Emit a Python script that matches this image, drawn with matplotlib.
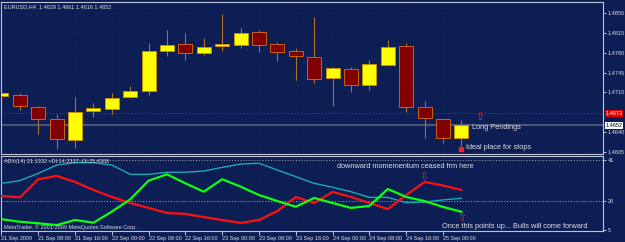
import matplotlib
matplotlib.use("Agg")
import matplotlib.pyplot as plt

plt.rcParams['font.family'] = ['Liberation Sans', 'DejaVu Sans']

# EURUSD H4, one candle per bar from 21 Sep 2009 00:00 to 25 Sep 2009 04:00
opens  = [1.4704, 1.4706, 1.4684, 1.4663, 1.4626, 1.4677, 1.4681, 1.4702, 1.4712, 1.4783,
          1.4795, 1.4780, 1.4792, 1.4794, 1.4817, 1.4795, 1.4783, 1.4772, 1.4735, 1.4751,
          1.4723, 1.4758, 1.4792, 1.4684, 1.4663, 1.4629]
highs  = [1.4711, 1.4709, 1.4686, 1.4672, 1.4702, 1.4691, 1.4709, 1.4721, 1.4797, 1.4820,
          1.4815, 1.4806, 1.4848, 1.4824, 1.4820, 1.4799, 1.4788, 1.4843, 1.4754, 1.4755,
          1.4767, 1.4802, 1.4797, 1.4695, 1.4664, 1.4661]
lows   = [1.4684, 1.4679, 1.4637, 1.4610, 1.4612, 1.4667, 1.4672, 1.4700, 1.4705, 1.4774,
          1.4767, 1.4776, 1.4783, 1.4788, 1.4781, 1.4765, 1.4732, 1.4727, 1.4686, 1.4711,
          1.4714, 1.4757, 1.4675, 1.4630, 1.4621, 1.4616]
closes = [1.4709, 1.4686, 1.4663, 1.4628, 1.4675, 1.4683, 1.4700, 1.4712, 1.4783, 1.4794,
          1.4780, 1.4790, 1.4795, 1.4815, 1.4794, 1.4781, 1.4774, 1.4734, 1.4753, 1.4723,
          1.4760, 1.4790, 1.4684, 1.4665, 1.4630, 1.4652]

# ADX(14) panel
adx      = [28.8, 30.2, 33.9, 38.2, 39.4, 39.4, 38.2, 33.4, 33.4, 34.5, 34.5, 35.1, 37.0,
            38.7, 39.1, 35.6, 32.2, 28.8, 26.8, 24.5, 21.6, 21.6, 18.9, 19.2, 20.3, 21.13]
plus_di  = [10.4, 9.1, 8.3, 7.4, 10.0, 8.6, 14.3, 20.6, 30.2, 33.4, 28.8, 24.5, 30.9,
            27.1, 22.8, 19.7, 16.8, 21.3, 18.7, 16.2, 17.2, 25.9, 21.8, 19.7, 16.7, 14.23]
minus_di = [22.3, 21.6, 30.9, 32.6, 29.5, 25.4, 21.8, 18.7, 16.2, 13.6, 13.1, 11.5, 10.0,
            8.5, 10.0, 14.6, 21.8, 18.7, 24.4, 21.8, 18.7, 15.6, 22.8, 29.5, 27.7, 25.43]

time_labels = ['21 Sep 2009', '21 Sep 08:00', '21 Sep 16:00', '22 Sep 00:00', '22 Sep 08:00',
               '22 Sep 16:00', '23 Sep 00:00', '23 Sep 08:00', '23 Sep 16:00', '24 Sep 00:00',
               '24 Sep 08:00', '24 Sep 16:00', '25 Sep 00:00']
price_ticks = [1.4850, 1.4815, 1.4780, 1.4745, 1.4710, 1.4640, 1.4605]
adx_ticks = [41, 20, 5]
stop_level = 1.4673
bid = 1.4652

BG = '#0d1e54'
FG = '#dcdce4'
EDGE = '#c0c4d8'
ARROW = '#ff1818'
W, H = 625, 242


def box(x0, y0, x1, y1):
    return [x0 / W, 1 - y1 / H, (x1 - x0) / W, (y1 - y0) / H]


fig = plt.figure(figsize=(W / 100, H / 100), dpi=100, facecolor=BG)
ax = fig.add_axes(box(1.5, 2, 603, 153.5), facecolor=BG)
ax2 = fig.add_axes(box(1.5, 156, 603, 231), facecolor=BG, sharex=ax)

n = len(opens)
xs = list(range(n))

# faint dotted grid
for p in price_ticks:
    ax.axhline(p, color='#3a2a5c', lw=0.5, ls=(0, (1, 6)), zorder=0)
for i in range(0, n, 2):
    ax.axvline(i, color='#3a2a5c', lw=0.5, ls=(0, (1, 6)), zorder=0)
    ax2.axvline(i, color='#3a2a5c', lw=0.5, ls=(0, (1, 6)), zorder=0)

ax.axhline(stop_level, color='#c00000', lw=0.7, ls=(0, (2, 1.5)), zorder=1)
ax.axhline(bid, color='#4c5676', lw=1.5, zorder=1)

# candles
ax.vlines(xs, lows, highs, color='#b0702a', lw=0.8, zorder=2)
up = [c >= o for o, c in zip(opens, closes)]
bottoms = [min(o, c) for o, c in zip(opens, closes)]
heights = [max(abs(c - o), 0.00004) for o, c in zip(opens, closes)]
ax.bar(xs, heights, bottom=bottoms, width=0.76,
       color=['#ffff00' if u else '#800000' for u in up],
       edgecolor=['#c89000' if u else '#d06010' for u in up], lw=0.7, zorder=3)

ax.set_xlim(0, 32.7)
ax.set_ylim(1.46024, 1.48694)
ax.yaxis.tick_right()
ax.set_yticks(price_ticks)
ax.set_yticklabels(['%.4f' % p for p in price_ticks])
ax.tick_params(axis='y', colors=FG, labelsize=4, length=2, width=0.6, pad=1.5)
ax.tick_params(axis='x', bottom=False, labelbottom=False)
for s in ax.spines.values():
    s.set_color(EDGE)
    s.set_linewidth(0.8)

yt = ax.get_yaxis_transform()
ax.text(1.004, stop_level, '%.4f' % stop_level, transform=yt, fontsize=4, color='white',
        va='center', ha='left', bbox=dict(boxstyle='square,pad=0.15', fc='#e00000', ec='none'))
ax.text(1.004, bid, '%.4f' % bid, transform=yt, fontsize=4, color='black',
        va='center', ha='left', bbox=dict(boxstyle='square,pad=0.15', fc='white', ec='none'))

ax.text(25.57, 1.46491, 'Long Pendings', fontsize=5.3, color=FG, va='center', ha='left')
ax.text(25.24, 1.46121, 'Ideal place for stops', fontsize=5.3, color=FG, va='center', ha='left')
ax.plot([24.97], [1.46103], marker='s', ms=2.5, color='#ff2020', zorder=5)
ax.text(26.0, 1.46667, '\u21e7', fontsize=8, color=ARROW, va='center', ha='center',
        family=['DejaVu Sans'], zorder=5)

fig.text(4 / W, 1 - 6.5 / H, 'EURUSD,H4  1.4629 1.4661 1.4616 1.4652',
         fontsize=4, color=FG, va='center', ha='left')

# ADX panel
ax2.axhline(41, color='#8a90a8', lw=0.8, ls=(0, (1, 1.5)), zorder=1)
ax2.axhline(20, color='#8a90a8', lw=0.8, ls=(0, (1, 1.5)), zorder=1)
ax2.plot(xs, adx, color='#20a8b4', lw=1.0, zorder=3)
ax2.plot(xs, minus_di, color='#ff1010', lw=1.6, zorder=3)
ax2.plot(xs, plus_di, color='#10ff10', lw=1.6, zorder=3)
ax2.set_ylim(4.36, 42.82)
ax2.yaxis.tick_right()
ax2.set_yticks(adx_ticks)
ax2.set_yticklabels([str(v) for v in adx_ticks])
ax2.tick_params(axis='y', colors=FG, labelsize=4, length=2, width=0.6, pad=1.5)
ax2.set_xticks(list(range(0, 2 * len(time_labels), 2)))
ax2.set_xticklabels(time_labels)
ax2.tick_params(axis='x', colors=FG, labelsize=4, length=3, width=0.6, pad=0.5)
for lbl in ax2.get_xticklabels():
    lbl.set_ha('left')
for s in ax2.spines.values():
    s.set_color(EDGE)
    s.set_linewidth(0.8)

ax2.text(18.23, 37.2, 'downward momementum ceased frm here', fontsize=5.3, color=FG,
         va='center', ha='left')
ax2.text(23.94, 6.9, 'Once this points up... Bulls will come forward', fontsize=5.3,
         color=FG, va='center', ha='left')
ax2.text(22.96, 32.3, '\u21e9', fontsize=8, color=ARROW, va='center', ha='center',
         family=['DejaVu Sans'], zorder=5)
ax2.text(25.03, 10.8, '\u21e7', fontsize=8, color=ARROW, va='center', ha='center',
         family=['DejaVu Sans'], zorder=5)

fig.text(4 / W, 1 - 162 / H, 'ADX(14) 21.1332 +DI:14.2337 -DI:25.4308',
         fontsize=4, color=FG, va='center', ha='left')
fig.text(4 / W, 1 - 227.5 / H, 'MetaTrader, \u00a9 2001-2009 MetaQuotes Software Corp.',
         fontsize=4, color=FG, va='center', ha='left')

fig.savefig('out.png', dpi=100, facecolor=BG)
